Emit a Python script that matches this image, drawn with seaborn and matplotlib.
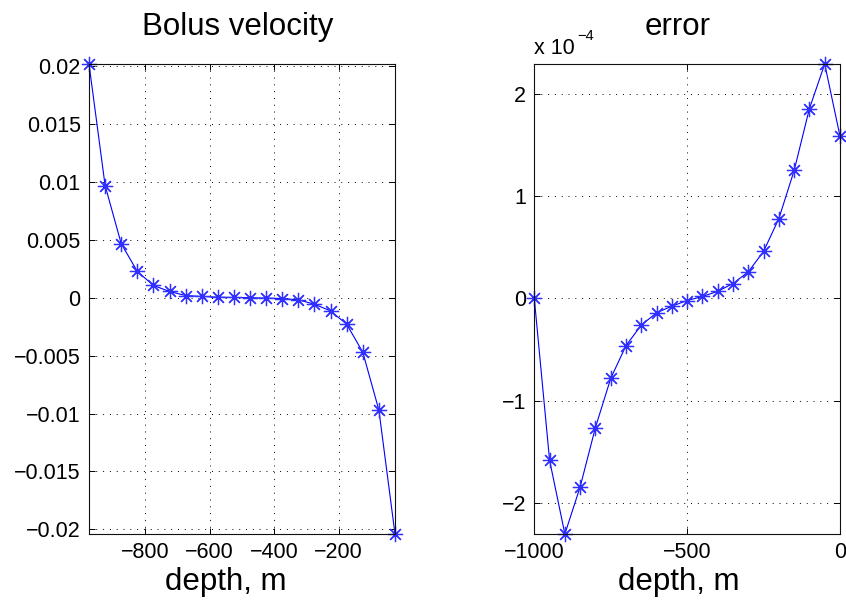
import matplotlib
matplotlib.use("Agg")
import matplotlib.pyplot as plt
import matplotlib.ticker as mticker
import seaborn as sns

# Cell-centre depths and bolus velocity
depth_centres = [-975, -925, -875, -825, -775, -725, -675, -625, -575, -525,
                 -475, -425, -375, -325, -275, -225, -175, -125, -75, -25]
bolus_velocity = [0.0202, 0.0097, 0.00468, 0.00228, 0.00107, 0.00055, 0.0002,
                  0.00012, 0.00006, 0.00003, 0.00001, -0.00002, -0.00006,
                  -0.00017, -0.00055, -0.00113, -0.00228, -0.0047, -0.0097, -0.0204]

# Cell-face depths and error (in units of 1e-4)
depth_faces = [-1000, -950, -900, -850, -800, -750, -700, -650, -600, -550, -500,
               -450, -400, -350, -300, -250, -200, -150, -100, -50, 0]
error_e4 = [0.0, -1.58, -2.30, -1.84, -1.26, -0.78, -0.46, -0.26, -0.14, -0.075,
            -0.02, 0.02, 0.07, 0.146, 0.26, 0.46, 0.78, 1.25, 1.855, 2.29, 1.585]
error_scale = 1e-4
error = [v * error_scale for v in error_e4]

left_yticks = [-0.02, -0.015, -0.01, -0.005, 0, 0.005, 0.01, 0.015, 0.02]
left_xticks = [-800, -600, -400, -200]
right_yticks = [-2e-4, -1e-4, 0, 1e-4, 2e-4]
right_xticks = [-1000, -500, 0]

sns.set_style("ticks")
plt.rcParams["font.family"] = ["Liberation Sans", "DejaVu Sans"]
plt.rcParams["axes.unicode_minus"] = True
plt.rcParams["text.color"] = "black"
plt.rcParams["axes.labelcolor"] = "black"
plt.rcParams["axes.titlecolor"] = "black"

fig = plt.figure(figsize=(8.46, 6), dpi=100)
W, H = 846, 600
ax1 = fig.add_axes([89 / W, 66 / H, 306 / W, 470 / H])
ax2 = fig.add_axes([534.3 / W, 66 / H, 305.7 / W, 470 / H])

line_kw = dict(color="#0000ff", linewidth=0.8, marker=(8, 2, 0), markersize=11,
               markeredgewidth=0.9, markeredgecolor="#3030ff", clip_on=False)
sns.lineplot(x=depth_centres, y=bolus_velocity, ax=ax1, sort=False, **line_kw)
sns.lineplot(x=depth_faces, y=error, ax=ax2, sort=False, **line_kw)


def fmt_plain(v, pos):
    s = f"{round(v, 8):g}"
    return s.replace("-", "\u2212")


def fmt_e4(v, pos):
    s = f"{round(v / error_scale, 6):g}"
    return s.replace("-", "\u2212")


ax1.set_xlim(-975, -25)
ax1.set_ylim(-0.0204, 0.0202)
ax1.set_xticks(left_xticks)
ax1.set_yticks(left_yticks)
ax1.yaxis.set_major_formatter(mticker.FuncFormatter(fmt_plain))
ax1.xaxis.set_major_formatter(mticker.FuncFormatter(fmt_plain))

ax2.set_xlim(-1000, 0)
ax2.set_ylim(-2.30e-4, 2.29e-4)
ax2.set_xticks(right_xticks)
ax2.set_yticks(right_yticks)
ax2.yaxis.set_major_formatter(mticker.FuncFormatter(fmt_e4))
ax2.xaxis.set_major_formatter(mticker.FuncFormatter(fmt_plain))

for ax in (ax1, ax2):
    ax.grid(True, color="black", linewidth=0.7, linestyle=(0, (1, 6)))
    ax.tick_params(direction="in", length=4, width=0.7, labelsize=15.5,
                   top=True, right=True, pad=6, colors="black")
    for sp in ax.spines.values():
        sp.set_visible(True)
        sp.set_color("#111111")
        sp.set_linewidth(0.8)
    ax.set_facecolor("white")

ax1.set_title("Bolus velocity", fontsize=22.5, pad=21, x=0.485, color="black")
ax2.set_title("error", fontsize=22.5, pad=21, x=0.47, color="black")

ax1.set_xlabel("depth, m", fontsize=22.5, va="baseline", color="black")
ax1.xaxis.set_label_coords(0.448, -(590 - 534) / 470)
ax2.set_xlabel("depth, m", fontsize=22.5, va="baseline", color="black")
ax2.xaxis.set_label_coords(0.474, -(590 - 534) / 470)

# Exponent label for the error axis
ax2.text(0.0, (534 - 54) / 470, "x 10", transform=ax2.transAxes,
         fontsize=15.5, ha="left", va="baseline", color="black")
ax2.text(0.139, (534 - 40) / 470, "\u22124", transform=ax2.transAxes,
         fontsize=10.5, ha="left", va="baseline", color="black")

fig.savefig("out.png", dpi=100, facecolor="white")
